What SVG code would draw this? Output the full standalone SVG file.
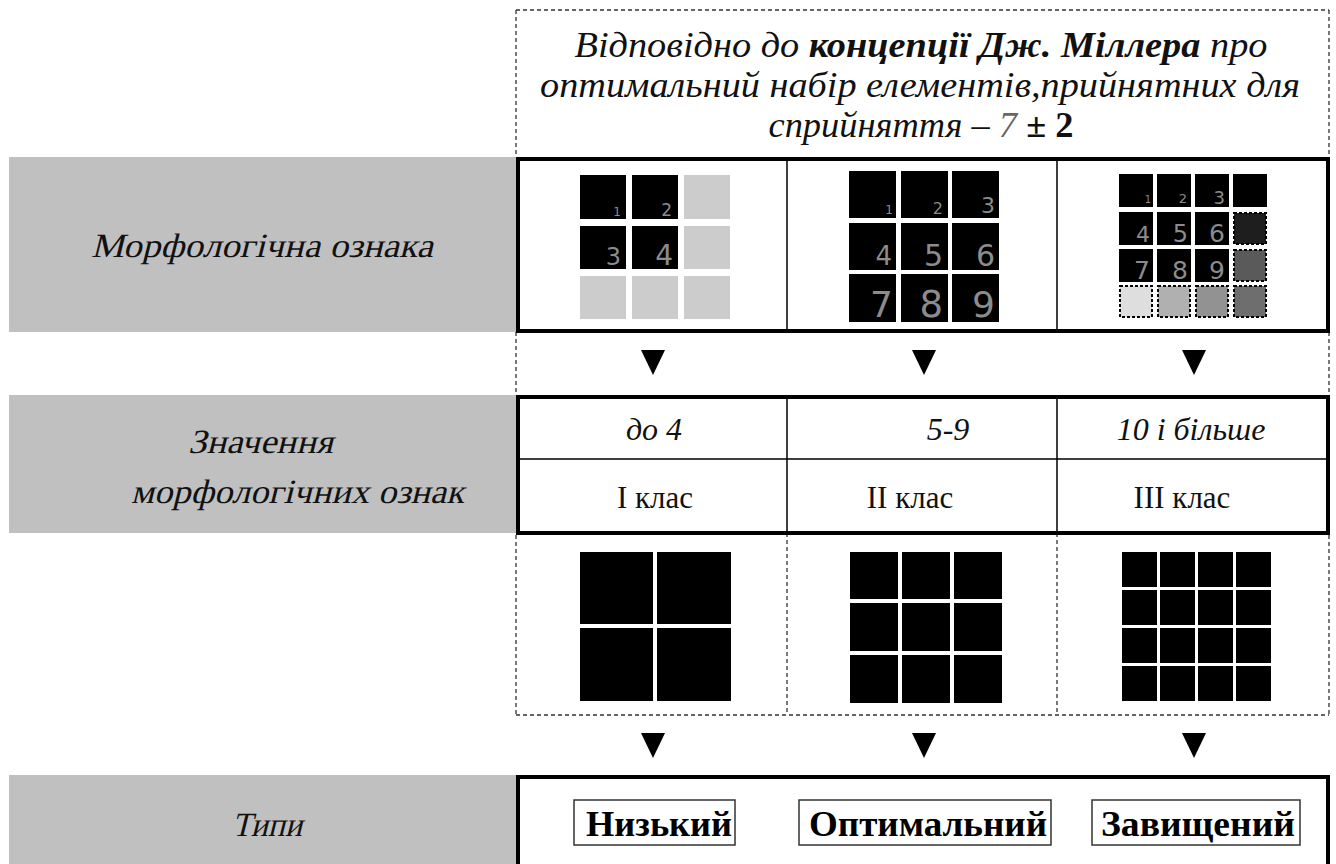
<svg xmlns="http://www.w3.org/2000/svg" width="1336" height="864" viewBox="0 0 1336 864">
<style>
.grey{fill:#c0c0c0}
.thick{fill:#fff;stroke:#000;stroke-width:4}
.thin{stroke:#000;stroke-width:1.5;fill:none}
.dash{stroke:#333;stroke-width:1.3;stroke-dasharray:4 3;fill:none}
.lbl{font-family:"Liberation Serif",serif;font-size:34px;fill:#111}
.hdr{font-family:"Liberation Serif",serif;font-style:italic;font-size:35px;fill:#111}
.val{font-family:"Liberation Serif",serif;font-style:italic;font-size:32px;fill:#111;text-anchor:middle}
.cls{font-family:"Liberation Serif",serif;font-size:31px;fill:#111;text-anchor:middle}
.typ{font-family:"Liberation Serif",serif;font-weight:bold;font-size:35px;fill:#000}
.num{font-family:"DejaVu Sans",sans-serif;fill:#8c8c8c;text-anchor:end}
.blk{fill:#000}
.lg{fill:#cccccc}
.dsq{stroke:#000;stroke-width:2;stroke-dasharray:3 2}
.tbox{fill:#fff;stroke:#333;stroke-width:1.5}
.arrow{fill:#000}
</style>
<rect x="0" y="0" width="1336" height="864" fill="#fff"/>

<g id="frame">
  <path class="dash" d="M516,10 H1329 M516,10 V715 M1329,10 V715 M516,715 H1329 M787,533 V715 M1057,533 V715"/>
</g>

<g id="header">
  <text class="hdr" x="921" y="57" text-anchor="middle" textLength="693" lengthAdjust="spacingAndGlyphs">Відповідно до <tspan font-weight="bold">концепції Дж. Міллера</tspan> про</text>
  <text class="hdr" x="920" y="97" text-anchor="middle" textLength="760" lengthAdjust="spacingAndGlyphs">оптимальний набір елементів,прийнятних для</text>
  <text class="hdr" x="921" y="137" text-anchor="middle" textLength="305" lengthAdjust="spacingAndGlyphs">сприйняття – <tspan fill="#666">7</tspan><tspan font-weight="bold" font-style="normal"> ± 2</tspan></text>
</g>

<g id="label-morph">
  <rect class="grey" x="9" y="157" width="507" height="175"/>
  <text class="lbl" transform="translate(91,257) skewX(-14)" x="0" y="0" textLength="342" lengthAdjust="spacingAndGlyphs">Морфологічна ознака</text>
</g>
<g id="label-values">
  <rect class="grey" x="9" y="395" width="507" height="138"/>
  <text class="lbl" transform="translate(188,453) skewX(-14)" x="0" y="0" textLength="145" lengthAdjust="spacingAndGlyphs">Значення</text>
  <text class="lbl" transform="translate(131,503) skewX(-14)" x="0" y="0" textLength="333" lengthAdjust="spacingAndGlyphs">морфологічних ознак</text>
</g>
<g id="label-types">
  <rect class="grey" x="9" y="775" width="507" height="89"/>
  <text class="lbl" transform="translate(232,836) skewX(-14)" x="0" y="0" textLength="70" lengthAdjust="spacingAndGlyphs">Типи</text>
</g>

<g id="morph-row">
  <rect class="thick" x="518" y="159" width="810" height="172"/>
  <path class="thin" d="M787,159 V331 M1057,159 V331"/>
  <g id="morph-grid-1">
    <rect class="blk" x="580" y="175" width="46" height="44"/>
    <rect class="blk" x="632" y="175" width="46" height="44"/>
    <rect class="lg" x="684" y="175" width="46" height="44"/>
    <rect class="blk" x="580" y="226" width="46" height="43"/>
    <rect class="blk" x="632" y="226" width="46" height="43"/>
    <rect class="lg" x="684" y="226" width="46" height="43"/>
    <rect class="lg" x="580" y="276" width="46" height="43"/>
    <rect class="lg" x="632" y="276" width="46" height="43"/>
    <rect class="lg" x="684" y="276" width="46" height="43"/>
    <text class="num" x="621" y="216" font-size="12">1</text>
    <text class="num" x="672" y="216" font-size="17">2</text>
    <text class="num" x="621" y="265" font-size="24">3</text>
    <text class="num" x="673" y="265" font-size="28">4</text>
  </g>
  <g id="morph-grid-2">
    <rect class="blk" x="849" y="171" width="47" height="47"/>
    <rect class="blk" x="901" y="171" width="47" height="47"/>
    <rect class="blk" x="952" y="171" width="47" height="47"/>
    <rect class="blk" x="849" y="223" width="47" height="47"/>
    <rect class="blk" x="901" y="223" width="47" height="47"/>
    <rect class="blk" x="952" y="223" width="47" height="47"/>
    <rect class="blk" x="849" y="274" width="47" height="48"/>
    <rect class="blk" x="901" y="274" width="47" height="48"/>
    <rect class="blk" x="952" y="274" width="47" height="48"/>
    <text class="num" x="893" y="214" font-size="12">1</text>
    <text class="num" x="943" y="214" font-size="16">2</text>
    <text class="num" x="995" y="213" font-size="22">3</text>
    <text class="num" x="892" y="265" font-size="26">4</text>
    <text class="num" x="943" y="266" font-size="30">5</text>
    <text class="num" x="995" y="266" font-size="30">6</text>
    <text class="num" x="893" y="317" font-size="36">7</text>
    <text class="num" x="943" y="317" font-size="37">8</text>
    <text class="num" x="995" y="317" font-size="36">9</text>
  </g>
  <g id="morph-grid-3">
    <rect class="blk" x="1119" y="174" width="34" height="33"/>
    <rect class="blk" x="1157" y="174" width="34" height="33"/>
    <rect class="blk" x="1195" y="174" width="34" height="33"/>
    <rect class="blk" x="1233" y="174" width="34" height="33"/>
    <rect class="blk" x="1119" y="212" width="34" height="33"/>
    <rect class="blk" x="1157" y="212" width="34" height="33"/>
    <rect class="blk" x="1195" y="212" width="34" height="33"/>
    <rect class="dsq" fill="#1e1e1e" x="1234" y="213" width="32" height="31"/>
    <rect class="blk" x="1119" y="249" width="34" height="33"/>
    <rect class="blk" x="1157" y="249" width="34" height="33"/>
    <rect class="blk" x="1195" y="249" width="34" height="33"/>
    <rect class="dsq" fill="#5a5a5a" x="1234" y="250" width="32" height="31"/>
    <rect class="dsq" fill="#dedede" x="1120" y="286" width="32" height="31"/>
    <rect class="dsq" fill="#b0b0b0" x="1158" y="286" width="32" height="31"/>
    <rect class="dsq" fill="#929292" x="1196" y="286" width="32" height="31"/>
    <rect class="dsq" fill="#6e6e6e" x="1234" y="286" width="32" height="31"/>
    <text class="num" x="1151" y="203" font-size="10">1</text>
    <text class="num" x="1187" y="203" font-size="13">2</text>
    <text class="num" x="1225" y="204" font-size="18">3</text>
    <text class="num" x="1150" y="242" font-size="22">4</text>
    <text class="num" x="1188" y="242" font-size="24">5</text>
    <text class="num" x="1225" y="242" font-size="25">6</text>
    <text class="num" x="1150" y="279" font-size="25">7</text>
    <text class="num" x="1188" y="279" font-size="25">8</text>
    <text class="num" x="1225" y="279" font-size="25">9</text>
  </g>
</g>

<g id="values-row">
  <rect class="thick" x="518" y="397" width="810" height="136"/>
  <path class="thin" d="M518,459 H1328 M787,397 V533 M1057,397 V533"/>
  <text class="val" x="654" y="440">до 4</text>
  <text class="val" x="948" y="440">5-9</text>
  <text class="val" x="1191" y="440">10 і більше</text>
  <text class="cls" x="655" y="508">I клас</text>
  <text class="cls" x="910" y="508">II клас</text>
  <text class="cls" x="1182" y="508">III клас</text>
</g>

<g id="shapes-row">
  <g id="shape-grid-1">
    <rect class="blk" x="580" y="552" width="73" height="72"/>
    <rect class="blk" x="657" y="552" width="74" height="72"/>
    <rect class="blk" x="580" y="628" width="73" height="73"/>
    <rect class="blk" x="657" y="628" width="74" height="73"/>
  </g>
  <g id="shape-grid-2">
    <rect class="blk" x="850" y="552" width="48" height="47"/>
    <rect class="blk" x="902" y="552" width="48" height="47"/>
    <rect class="blk" x="954" y="552" width="48" height="47"/>
    <rect class="blk" x="850" y="603" width="48" height="48"/>
    <rect class="blk" x="902" y="603" width="48" height="48"/>
    <rect class="blk" x="954" y="603" width="48" height="48"/>
    <rect class="blk" x="850" y="655" width="48" height="48"/>
    <rect class="blk" x="902" y="655" width="48" height="48"/>
    <rect class="blk" x="954" y="655" width="48" height="48"/>
  </g>
  <g id="shape-grid-3">
    <rect class="blk" x="1122" y="552" width="35" height="35"/>
    <rect class="blk" x="1160" y="552" width="35" height="35"/>
    <rect class="blk" x="1198" y="552" width="35" height="35"/>
    <rect class="blk" x="1236" y="552" width="35" height="35"/>
    <rect class="blk" x="1122" y="590" width="35" height="35"/>
    <rect class="blk" x="1160" y="590" width="35" height="35"/>
    <rect class="blk" x="1198" y="590" width="35" height="35"/>
    <rect class="blk" x="1236" y="590" width="35" height="35"/>
    <rect class="blk" x="1122" y="628" width="35" height="35"/>
    <rect class="blk" x="1160" y="628" width="35" height="35"/>
    <rect class="blk" x="1198" y="628" width="35" height="35"/>
    <rect class="blk" x="1236" y="628" width="35" height="35"/>
    <rect class="blk" x="1122" y="666" width="35" height="35"/>
    <rect class="blk" x="1160" y="666" width="35" height="35"/>
    <rect class="blk" x="1198" y="666" width="35" height="35"/>
    <rect class="blk" x="1236" y="666" width="35" height="35"/>
  </g>
</g>

<g id="types-row">
  <rect class="thick" x="518" y="777" width="810" height="92"/>
  <g id="type-low">
    <rect class="tbox" x="574" y="800" width="161" height="45"/>
    <text class="typ" x="586" y="836" textLength="146" lengthAdjust="spacingAndGlyphs">Низький</text>
  </g>
  <g id="type-optimal">
    <rect class="tbox" x="799" y="800" width="252" height="45"/>
    <text class="typ" x="809" y="836" textLength="238" lengthAdjust="spacingAndGlyphs">Оптимальний</text>
  </g>
  <g id="type-high">
    <rect class="tbox" x="1092" y="800" width="208" height="45"/>
    <text class="typ" x="1101" y="836" textLength="194" lengthAdjust="spacingAndGlyphs">Завищений</text>
  </g>
</g>

<g id="connectors">
  <path class="arrow" d="M641,350 L665,350 L653,375 Z"/>
  <path class="arrow" d="M912,350 L936,350 L924,375 Z"/>
  <path class="arrow" d="M1182,350 L1206,350 L1194,375 Z"/>
  <path class="arrow" d="M641,733 L665,733 L653,758 Z"/>
  <path class="arrow" d="M912,733 L936,733 L924,758 Z"/>
  <path class="arrow" d="M1182,733 L1206,733 L1194,758 Z"/>
</g>
</svg>
